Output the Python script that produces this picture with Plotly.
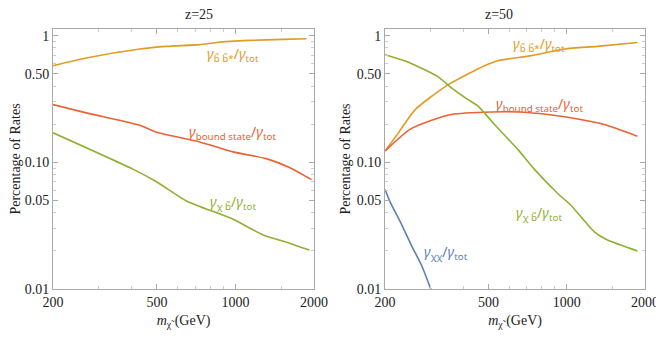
import numpy as np
import plotly.graph_objects as go
from plotly.subplots import make_subplots

# z = 25 panel
m25_bb = [200, 268, 430, 543, 730, 846, 1134, 1521, 1870]
r25_bb = [0.58, 0.667, 0.785, 0.824, 0.85, 0.885, 0.918, 0.935, 0.947]
m25_bs = [200, 268, 430, 498, 730, 979, 1312, 1610, 1955]
r25_bs = [0.286, 0.246, 0.196, 0.173, 0.145, 0.121, 0.107, 0.091, 0.073]
m25_xb = [200, 406, 500, 649, 979, 1276, 1610, 1920]
r25_xb = [0.171, 0.088, 0.070, 0.0496, 0.0355, 0.0267, 0.023, 0.0203]

# z = 50 panel
m50_bb = [200, 225, 261, 350, 483, 543, 730, 979, 1312, 1870]
r50_bb = [0.123, 0.171, 0.261, 0.411, 0.58, 0.635, 0.696, 0.785, 0.824, 0.885]
m50_bs = [200, 249, 302, 360, 513, 649, 846, 1037, 1393, 1870]
r50_bs = [0.123, 0.182, 0.215, 0.239, 0.25, 0.25, 0.239, 0.225, 0.199, 0.161]
m50_xb = [200, 246, 320, 360, 417, 456, 527, 649, 751, 923, 1037, 1276, 1435, 1870]
r50_xb = [0.708, 0.617, 0.473, 0.388, 0.313, 0.278, 0.199, 0.126, 0.088, 0.0568,
          0.0459, 0.0283, 0.0244, 0.020]
m50_xx = [200, 209, 232, 253, 277, 300, 310]
r50_xx = [0.061, 0.0487, 0.032, 0.0219, 0.0152, 0.0100, 0.0088]

x_ticks = [200, 500, 1000, 2000]
y_ticks = [0.01, 0.05, 0.1, 0.5, 1]
y_ticklabels = ["0.01", "0.05", "0.10", "0.50", "1"]

ORANGE = "#E19C24"
RED = "#EB6235"
GREEN = "#8FB032"
BLUE = "#5E81B5"
SERIF = "Liberation Serif"
SANS = "Noto Sans"

fig = make_subplots(rows=1, cols=2, horizontal_spacing=0.12)

def line(x, y, color, col):
    fig.add_trace(go.Scatter(x=x, y=y, mode="lines",
                             line=dict(color=color, width=1.6, shape="spline", smoothing=0.6),
                             showlegend=False, hoverinfo="skip"), row=1, col=col)

line(m25_bb, r25_bb, ORANGE, 1)
line(m25_bs, r25_bs, RED, 1)
line(m25_xb, r25_xb, GREEN, 1)
line(m50_bb, r50_bb, ORANGE, 2)
line(m50_bs, r50_bs, RED, 2)
line(m50_xb, r50_xb, GREEN, 2)
line(m50_xx, r50_xx, BLUE, 2)

minor_x = [300, 400, 600, 700, 800, 900, 1500]
minor_y = [0.02, 0.03, 0.04, 0.06, 0.07, 0.08, 0.09, 0.2, 0.3, 0.4, 0.6, 0.7, 0.8, 0.9]

fig.update_xaxes(type="log", range=[np.log10(200), np.log10(2000)],
                 tickvals=x_ticks, ticktext=[str(v) for v in x_ticks],
                 ticks="inside", ticklen=5, tickcolor="#aaaaaa",
                 minor=dict(tickvals=minor_x, ticks="inside", ticklen=3, tickcolor="#cccccc"),
                 showline=True, linecolor="#aaaaaa", linewidth=1, mirror="allticks",
                 showgrid=False, zeroline=False, automargin=False,
                 tickfont=dict(family=SERIF, size=14, color="#222222"),
                 title=dict(text="<i>m</i><sub>χ̃</sub> (GeV)", standoff=6,
                            font=dict(family=SERIF, size=14, color="#222222")))
fig.update_yaxes(type="log", range=[-2, 0.053],
                 tickvals=y_ticks, ticktext=y_ticklabels,
                 ticks="inside", ticklen=5, tickcolor="#aaaaaa",
                 minor=dict(tickvals=minor_y, ticks="inside", ticklen=3, tickcolor="#cccccc"),
                 showline=True, linecolor="#aaaaaa", linewidth=1, mirror="allticks",
                 showgrid=False, zeroline=False, automargin=False,
                 tickfont=dict(family=SERIF, size=14, color="#222222"),
                 title=dict(text="Percentage of Rates", standoff=2,
                            font=dict(family=SERIF, size=14, color="#222222")))

fig.update_xaxes(domain=[0, 0.441], row=1, col=1)
fig.update_xaxes(domain=[0.561, 1], row=1, col=2)

def label(text, x, y, color, xref, yref):
    fig.add_annotation(text=text, x=x, y=y, xref=xref, yref=yref, showarrow=False,
                       font=dict(family=SANS, size=14, color=color))

bb = "<i>γ</i><sub>b̃ b̃*</sub>/<i>γ</i><sub>tot</sub>"
bs = "<i>γ</i><sub>bound state</sub>/<i>γ</i><sub>tot</sub>"
xb = "<i>γ</i><sub>χ b̃</sub>/<i>γ</i><sub>tot</sub>"
xx = "<i>γ</i><sub>χχ</sub>/<i>γ</i><sub>tot</sub>"

label(bb, 2.99, -0.15, ORANGE, "x", "y")
label(bs, 2.99, -0.764, RED, "x", "y")
label(xb, 2.99, -1.315, GREEN, "x", "y")
label(bb, 2.894, -0.071, ORANGE, "x2", "y2")
label(bs, 2.894, -0.543, RED, "x2", "y2")
label(xb, 2.894, -1.40, GREEN, "x2", "y2")
label(xx, 2.537, -1.71, BLUE, "x2", "y2")

for xc, t in [(0.22, "z=25"), (0.78, "z=50")]:
    fig.add_annotation(text=t, x=xc, y=1.0, xref="paper", yref="paper", yshift=15,
                       showarrow=False, yanchor="middle",
                       font=dict(family=SERIF, size=14, color="#222222"))

# page body adds 8px offset, so the figure is a bit smaller than the window
fig.update_layout(width=656, height=334, margin=dict(l=45, r=19, t=21, b=53),
                  plot_bgcolor="white", paper_bgcolor="white")

fig.write_html("out.html")
